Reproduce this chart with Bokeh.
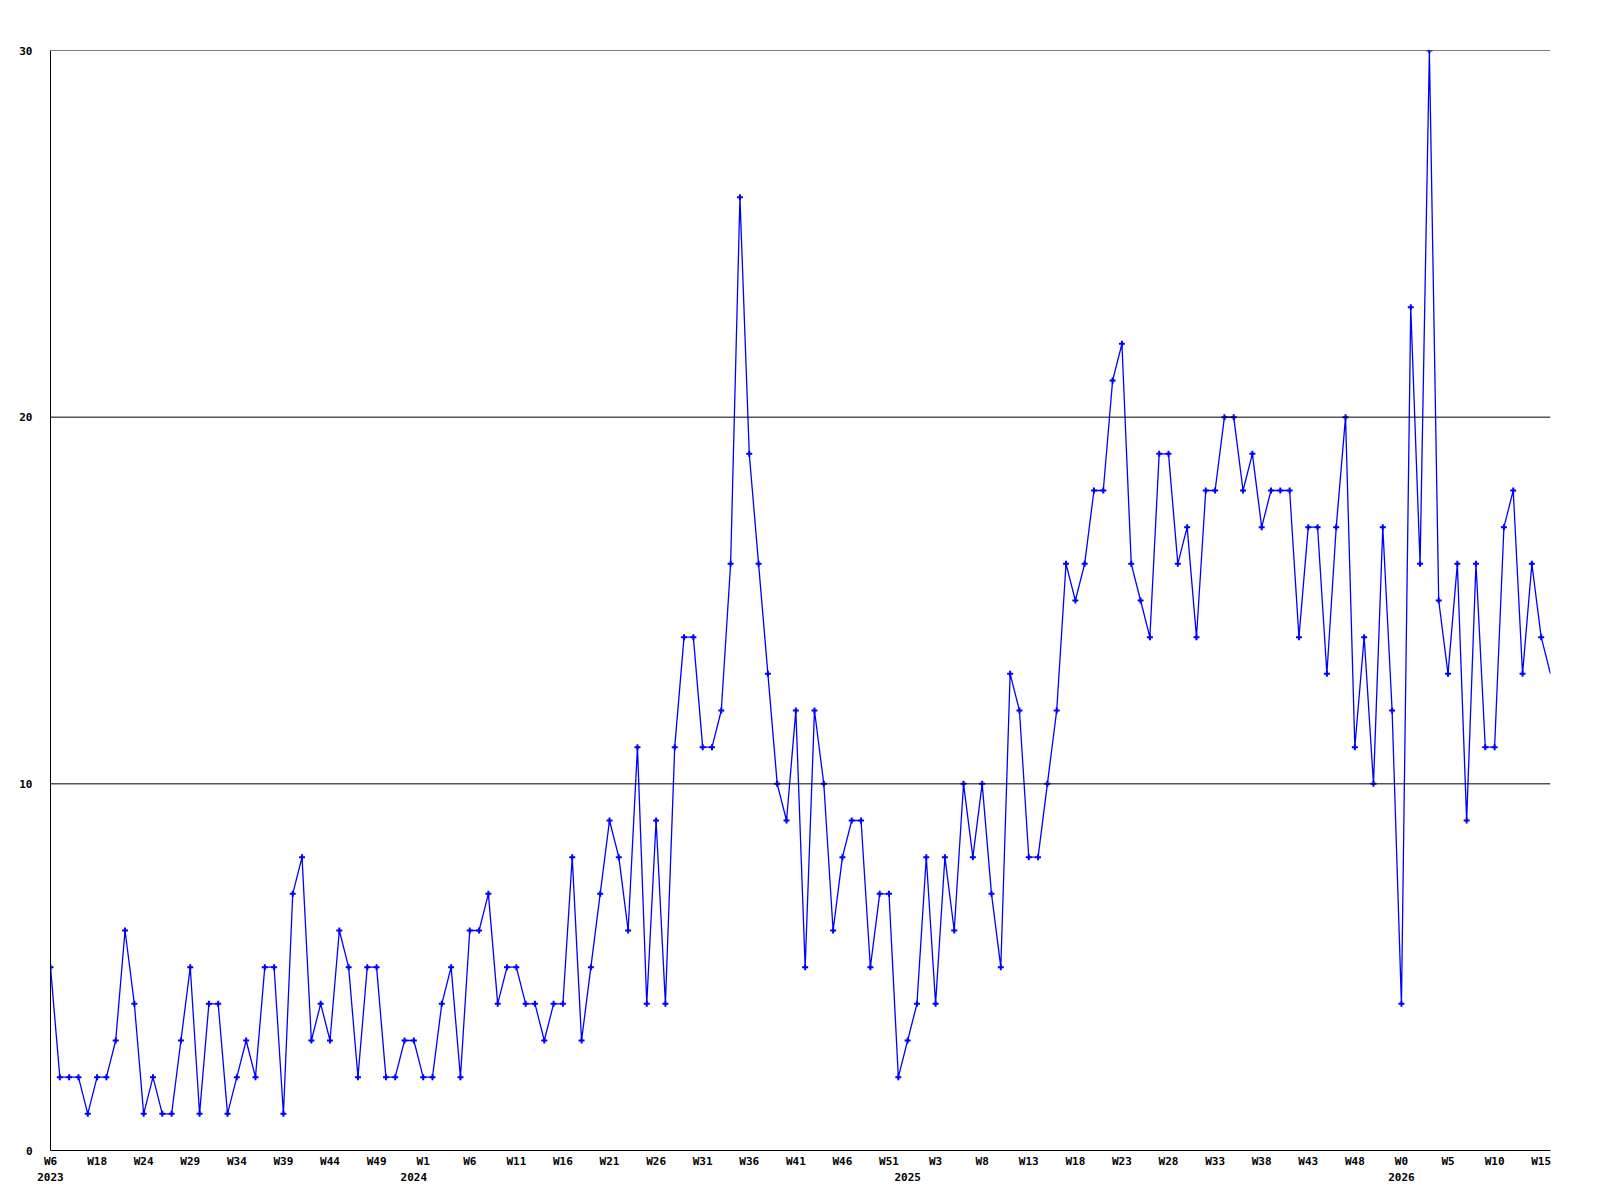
from bokeh.plotting import figure
from bokeh.models import Range1d, Span, LinearAxis, FixedTicker
from bokeh.embed import file_html
from bokeh.resources import INLINE

# weekly counts, first week 2023 W6 onward
counts = [5, 2, 2, 2, 1, 2, 2, 3, 6, 4, 1, 2, 1, 1, 3, 5, 1, 4, 4, 1,
          2, 3, 2, 5, 5, 1, 7, 8, 3, 4, 3, 6, 5, 2, 5, 5, 2, 2, 3, 3,
          2, 2, 4, 5, 2, 6, 6, 7, 4, 5, 5, 4, 4, 3, 4, 4, 8, 3, 5, 7,
          9, 8, 6, 11, 4, 9, 4, 11, 14, 14, 11, 11, 12, 16, 26, 19, 16, 13, 10, 9,
          12, 5, 12, 10, 6, 8, 9, 9, 5, 7, 7, 2, 3, 4, 8, 4, 8, 6, 10, 8,
          10, 7, 5, 13, 12, 8, 8, 10, 12, 16, 15, 16, 18, 18, 21, 22, 16, 15, 14, 19,
          19, 16, 17, 14, 18, 18, 20, 20, 18, 19, 17, 18, 18, 18, 14, 17, 17, 13, 17, 20,
          11, 14, 10, 17, 12, 4, 23, 16, 30, 15, 13, 16, 9, 16, 11, 11, 17, 18, 13, 16,
          14, 13]

week_labels = ["W6", "W18", "W24", "W29", "W34", "W39", "W44", "W49", "W1", "W6",
               "W11", "W16", "W21", "W26", "W31", "W36", "W41", "W46", "W51", "W3",
               "W8", "W13", "W18", "W23", "W28", "W33", "W38", "W43", "W48", "W0",
               "W5", "W10", "W15"]
week_label_step = 5

year_labels = ["2023", "2024", "2025", "2026"]
year_label_index = [0, 39, 92, 145]

y_ticks = [0, 10, 20, 30]
y_grid = [10, 20, 30]

n = len(counts)
xs = list(range(n))

FONT = "DejaVu Sans Mono"

p = figure(frame_width=1500, frame_height=1100,
           x_range=Range1d(0, n - 1), y_range=Range1d(0, 30),
           output_backend="svg", toolbar_location=None,
           x_axis_location=None, y_axis_location=None,
           min_border_left=50, min_border_right=40,
           min_border_top=50, min_border_bottom=10,
           background_fill_color="white", border_fill_color="white",
           outline_line_color=None)
p.grid.visible = False


def style_axis(ax, standoff):
    ax.major_tick_out = 0
    ax.major_tick_in = 0
    ax.minor_tick_out = 0
    ax.minor_tick_in = 0
    ax.major_label_standoff = standoff
    ax.major_label_text_font = FONT
    ax.major_label_text_font_style = "bold"
    ax.major_label_text_font_size = "11px"
    ax.major_label_text_color = "black"


# week axis (with the bottom axis line)
wk_ticks = [i * week_label_step for i in range(len(week_labels))]
xa = LinearAxis(ticker=FixedTicker(ticks=wk_ticks),
                major_label_overrides={t: s for t, s in zip(wk_ticks, week_labels)})
style_axis(xa, 4)
xa.axis_line_color = "black"
xa.axis_line_width = 1
p.add_layout(xa, "below")

# year axis
ya2 = LinearAxis(ticker=FixedTicker(ticks=year_label_index),
                 major_label_overrides={t: s for t, s in zip(year_label_index, year_labels)})
style_axis(ya2, 2)
ya2.axis_line_color = None
p.add_layout(ya2, "below")

# value axis (left line + labels)
ya = LinearAxis(ticker=FixedTicker(ticks=y_ticks),
                major_label_overrides={t: str(t) for t in y_ticks})
style_axis(ya, 18)
ya.major_label_text_align = "left"
ya.axis_line_color = "black"
ya.axis_line_width = 1
p.add_layout(ya, "left")

for g in y_grid:
    p.add_layout(Span(location=g, dimension="width", line_color="black", line_width=1))

p.line(xs, counts, line_color="#0000ff", line_width=1.3)
p.scatter(xs[:-1], counts[:-1], marker="cross", size=6, line_color="#0000ff", line_width=2)

open("out.html", "w").write(file_html(p, INLINE))
